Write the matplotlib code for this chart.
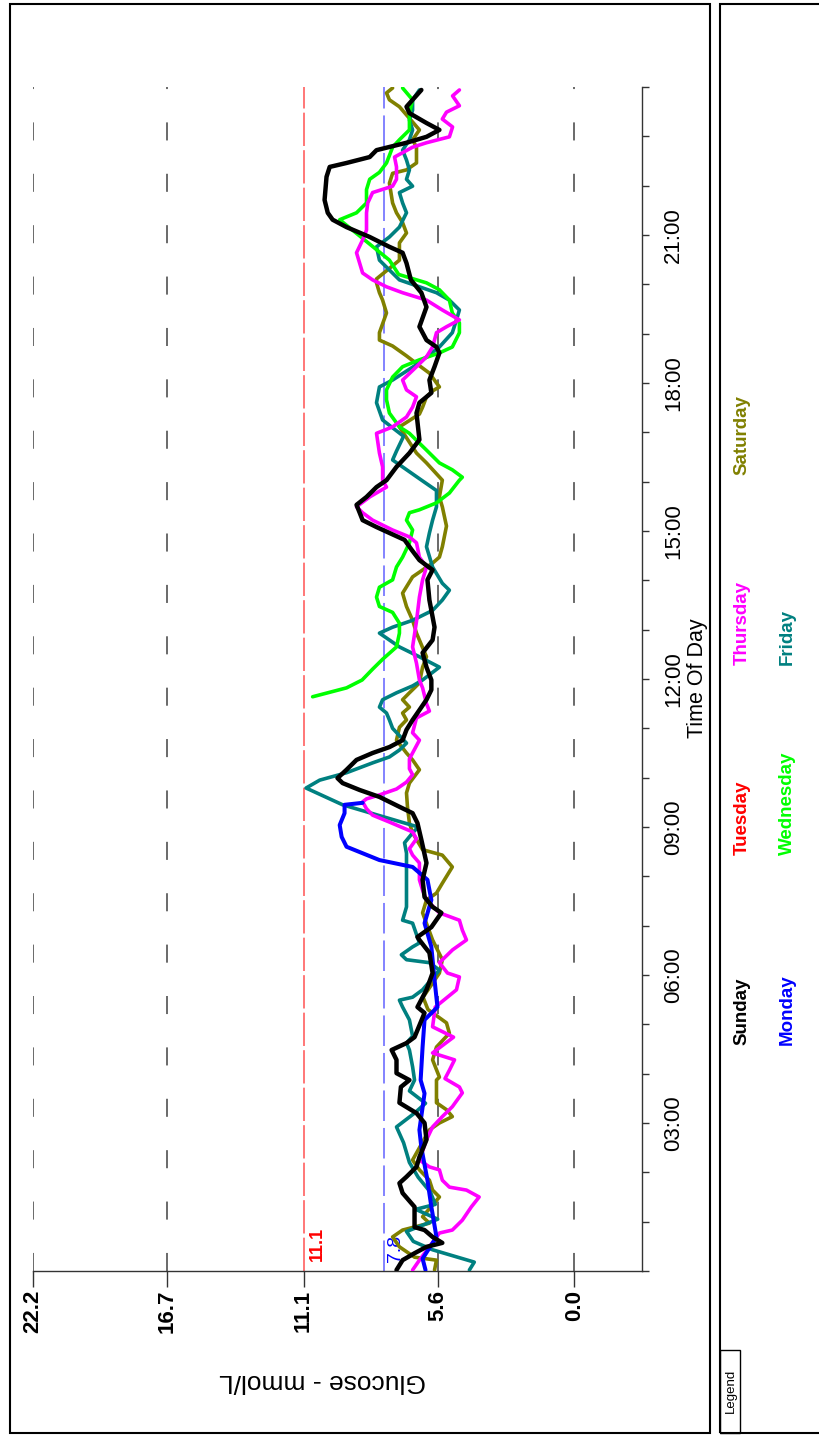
import matplotlib
matplotlib.use('Agg')
import matplotlib.pyplot as plt
from matplotlib.patches import Rectangle

plt.rcParams['font.family'] = ['Liberation Sans', 'DejaVu Sans']
plt.rcParams['lines.scale_dashes'] = False

# ---------------- data (time of day in hours, glucose in mmol/L) ----------------
glucose_ticks = [22.2, 16.7, 11.1, 5.6, 0.0]
glucose_labels = ['22.2', '16.7', '11.1', '5.6', '0.0']
time_ticks = [3, 6, 9, 12, 15, 18, 21]
time_labels = ['03:00', '06:00', '09:00', '12:00', '15:00', '18:00', '21:00']
threshold_high = 11.1
threshold_target = 7.8

days = ['Sunday', 'Monday', 'Tuesday', 'Wednesday', 'Thursday', 'Friday', 'Saturday']
day_colors = ['#000000', '#0000ff', '#ff0000', '#00ff00', '#ff00ff', '#008080', '#808000']

sunday = [(0.02,7.29),(0.22,7.04),(0.36,6.55),(0.49,6.06),(0.57,5.41),(0.69,5.81),(0.83,6.14),(0.89,6.55),
          (1.30,6.55),(1.58,7.04),(1.78,7.17),(1.91,6.88),(2.11,6.47),(2.31,6.35),(2.66,6.06),(3.00,6.14),
          (3.20,6.47),(3.41,7.17),(3.73,7.11),(3.87,6.76),(4.01,7.29),(4.28,7.29),(4.48,7.49),(4.62,6.88),
          (4.74,6.55),(5.23,6.14),(5.35,6.43),(5.70,6.06),(6.04,5.81),(6.45,5.94),(6.71,6.35),(6.77,6.43),
          (6.97,5.86),(7.26,5.45),(7.38,5.81),(7.58,6.14),(7.93,6.22),(8.27,6.06),(8.74,6.27),(9.08,6.43),
          (9.28,6.63),(9.41,7.17),(9.61,7.99),(9.75,8.80),(9.89,9.50),(9.99,9.71),(10.16,9.34),(10.36,8.93),
          (10.50,8.27),(10.62,7.58),(10.76,7.04),(10.97,6.88),(11.17,6.63),(11.37,6.35),(11.58,6.06),
          (11.78,5.86),(11.98,5.86),(12.24,6.06),(12.53,6.22),(12.79,5.81),(13.05,5.73),(13.60,5.94),
          (14.01,6.02),(14.21,5.81),(14.41,6.35),(14.62,6.67),(14.82,6.96),(14.96,7.58),(15.08,8.11),
          (15.22,8.68),(15.37,8.80),(15.53,8.93),(15.69,8.52),(15.89,8.11),(16.03,7.70),(16.30,7.29),
          (16.58,6.76),(16.85,6.35),(17.39,6.47),(17.60,6.35),(17.80,5.86),(18.06,5.94),(18.33,5.73),
          (18.61,5.53),(18.73,5.65),(18.87,6.06),(19.14,6.35),(19.54,6.06),(19.83,6.27),(20.09,6.70),
          (20.43,6.88),(20.64,7.04),(20.76,7.58),(20.96,8.39),(21.16,9.34),(21.31,9.91),(21.45,10.11),
          (21.71,10.24),(22.18,10.16),(22.38,10.03),(22.46,9.34),(22.58,8.39),(22.72,8.11),(22.87,6.88),
          (22.99,6.06),(23.13,5.53),(23.27,6.06),(23.47,6.76),(23.60,6.88),(23.74,6.63),(23.94,6.27)]

monday = [(0.02,6.10),(0.25,6.22),(0.69,5.65),(1.30,5.86),(1.84,6.02),(2.50,6.27),(2.86,6.35),(3.60,6.14),
          (3.87,6.30),(4.54,6.22),(5.09,6.14),(5.35,5.61),(5.90,5.73),(6.57,5.86),(7.05,6.14),(7.52,5.86),
          (7.93,6.02),(8.19,6.63),(8.33,7.99),(8.60,9.34),(8.80,9.54),(9.04,9.62),(9.28,9.42),(9.45,9.42),
          (9.49,8.68)]

tuesday = []

wednesday = [(11.64,10.73),(11.82,9.34),(11.98,8.70),(12.20,8.27),(12.40,7.86),(12.65,7.29),(12.93,7.17),
             (13.13,7.17),(13.35,7.45),(13.47,7.99),(13.66,8.11),(13.86,7.99),(14.01,7.45),(14.27,7.29),
             (14.47,7.04),(14.76,6.76),(15.02,6.63),(15.22,6.88),(15.37,6.76),(15.43,6.35),(15.57,5.65),
             (15.77,5.12),(16.03,4.71),(16.09,4.59),(16.24,5.00),(16.38,5.53),(16.64,6.06),(16.78,6.35),
             (16.98,6.76),(17.11,7.17),(17.39,7.58),(17.66,7.70),(17.86,7.70),(18.12,7.45),(18.33,7.04),
             (18.47,6.35),(18.61,5.53),(18.73,5.00),(19.02,4.71),(19.22,4.71),(19.42,5.00),(19.68,5.12),
             (19.89,5.53),(20.03,6.06),(20.20,7.20),(20.49,7.58),(21.31,9.62),(21.45,8.93),(21.65,8.52),
             (21.92,8.52),(22.13,8.39),(22.27,7.99),(22.46,7.70),(22.78,7.45),(22.93,7.17),(23.13,6.76),
             (23.47,6.76),(23.74,6.63),(23.98,7.04)]

thursday = [(0.02,6.63),(0.22,6.35),(0.49,5.94),(0.77,5.53),(0.83,5.00),(1.03,4.59),(1.30,4.22),(1.50,3.90),
            (1.64,4.42),(1.70,5.12),(1.84,5.41),(2.05,5.53),(2.11,5.94),(2.25,6.35),(2.66,6.06),(2.92,5.81),
            (3.13,5.41),(3.33,5.00),(3.61,4.59),(3.73,4.71),(3.90,5.30),(4.07,5.12),(4.28,4.91),(4.42,5.81),
            (4.74,4.95),(4.95,5.81),(5.35,5.70),(5.70,4.83),(5.96,4.71),(6.04,5.20),(6.25,5.53),(6.51,4.99),
            (6.71,4.42),(6.91,4.59),(7.11,4.71),(7.26,5.53),(7.52,6.06),(7.72,6.22),(7.93,6.35),(8.27,6.35),
            (8.43,6.63),(8.56,6.76),(8.76,6.47),(8.90,6.63),(9.10,7.58),(9.24,8.27),(9.37,8.52),(9.51,8.68),
            (9.57,8.52),(9.65,7.99),(9.77,7.29),(9.91,6.88),(10.06,6.63),(10.18,6.76),(10.38,6.76),(10.76,6.35),
            (10.91,6.63),(11.21,6.47),(11.35,5.94),(11.50,6.06),(11.82,6.22),(11.98,6.35),(12.32,6.47),
            (12.65,6.63),(13.17,6.47),(13.66,6.35),(14.01,6.22),(14.27,6.06),(14.47,6.35),(14.76,6.47),
            (14.88,6.76),(15.02,7.45),(15.22,8.27),(15.37,8.68),(15.49,8.93),(15.69,8.39),(15.89,7.70),
            (16.03,7.86),(16.30,7.86),(16.58,7.99),(16.98,8.11),(17.11,7.45),(17.31,6.88),(17.51,6.63),
            (17.72,6.47),(17.86,6.88),(18.06,7.04),(18.33,6.47),(18.53,6.06),(18.73,5.81),(19.02,5.65),
            (19.14,5.24),(19.28,4.71),(19.48,5.41),(19.68,6.06),(19.83,7.04),(19.95,7.70),(20.09,8.27),
            (20.23,8.68),(20.64,8.93),(20.90,8.68),(21.10,8.52),(21.45,8.52),(21.65,8.47),(21.86,8.27),
            (21.99,7.45),(22.13,7.29),(22.38,7.29),(22.58,7.37),(22.78,6.63),(22.87,6.06),(22.99,5.12),
            (23.19,4.99),(23.35,5.41),(23.49,5.24),(23.62,4.71),(23.82,4.99),(23.94,4.71)]

friday = [(0.02,4.30),(0.18,4.10),(0.43,5.81),(0.60,6.60),(0.80,6.88),(1.05,5.60),(1.25,6.50),(1.35,5.70),
          (1.60,5.90),(1.90,6.40),(2.20,6.76),(2.60,7.00),(2.92,7.29),(3.20,6.55),(3.40,6.10),(3.65,6.76),
          (3.87,6.55),(4.14,6.63),(4.48,6.76),(4.62,6.88),(4.76,6.63),(5.09,6.76),(5.35,7.04),(5.49,7.17),
          (5.55,6.63),(5.70,6.22),(6.10,5.53),(6.25,5.94),(6.31,6.88),(6.41,7.09),(6.57,6.63),(6.65,6.35),
          (7.05,6.63),(7.11,7.04),(7.38,6.88),(7.93,6.88),(8.47,6.88),(8.68,6.96),(8.88,6.63),(9.00,6.40),
          (9.45,9.50),(9.79,11.00),(9.95,10.44),(10.10,9.34),(10.30,8.27),(10.42,7.58),(10.56,7.17),
          (10.70,6.88),(11.00,7.45),(11.17,7.58),(11.31,7.70),(11.43,7.99),(11.58,7.86),(11.72,7.29),
          (11.86,6.63),(11.98,6.22),(12.24,5.53),(12.45,6.35),(12.65,7.17),(12.93,7.99),(13.05,7.45),
          (13.19,6.63),(13.39,5.81),(13.60,5.41),(13.80,5.12),(13.94,5.41),(14.27,5.81),(14.68,6.06),
          (14.96,5.94),(15.22,5.81),(15.49,5.65),(15.82,5.65),(16.06,6.35),(16.44,7.45),(16.62,7.29),
          (16.92,7.00),(17.25,7.86),(17.60,8.11),(17.92,7.99),(18.06,7.45),(18.41,6.35),(18.53,6.06),
          (18.73,5.53),(19.02,5.00),(19.28,4.83),(19.48,4.71),(19.68,5.12),(19.83,5.65),(19.95,6.35),
          (20.09,7.17),(20.49,7.99),(20.76,8.11),(20.96,7.58),(21.16,7.17),(21.45,6.88),(21.65,7.04),
          (21.86,7.17),(21.99,6.63),(22.13,6.88),(22.32,6.76),(22.52,6.88),(22.72,7.04),(22.93,6.76),
          (23.13,6.63),(23.33,6.76),(23.53,6.63),(23.74,6.63),(23.94,6.35)]

saturday = [(0.02,5.73),(0.22,5.65),(0.28,6.55),(0.49,7.17),(0.69,7.45),(0.83,7.04),(0.97,5.94),(1.10,6.22),
            (1.50,5.53),(1.64,5.81),(1.84,5.94),(2.05,6.35),(2.25,6.63),(2.86,5.94),(3.00,5.53),(3.13,5.00),
            (3.27,5.24),(3.41,5.65),(3.87,5.65),(3.93,5.53),(4.28,5.81),(4.54,5.65),(4.82,5.12),(5.03,5.24),
            (5.30,6.00),(5.55,6.20),(6.04,5.53),(6.31,5.41),(6.71,5.81),(7.26,6.22),(7.52,6.06),(7.66,5.65),
            (7.86,5.41),(8.19,5.00),(8.43,5.41),(8.54,6.22),(8.88,6.63),(9.08,6.76),(9.41,6.84),(9.69,6.88),
            (9.89,6.76),(10.16,6.35),(10.36,6.63),(10.50,6.88),(10.76,7.29),(11.02,7.17),(11.17,6.88),
            (11.31,7.04),(11.43,6.76),(11.58,7.04),(11.72,6.76),(11.92,6.35),(12.24,6.22),(12.45,6.06),
            (12.93,6.47),(13.19,6.63),(13.47,6.88),(13.74,7.04),(14.07,6.63),(14.21,6.22),(14.35,5.81),
            (14.47,5.53),(14.68,5.41),(15.10,5.24),(15.49,5.41),(15.69,5.53),(16.03,5.41),(16.38,6.06),
            (16.58,6.47),(17.11,7.17),(17.37,6.35),(17.51,6.22),(17.72,6.06),(17.84,5.81),(17.92,5.53),
            (18.20,5.94),(18.35,6.35),(18.55,6.88),(18.75,7.45),(18.87,7.99),(19.02,7.99),(19.42,7.70),
            (19.68,7.86),(19.83,7.99),(20.03,8.11),(20.11,8.11),(20.49,7.17),(20.84,7.17),(21.04,6.88),
            (21.25,7.04),(21.45,7.29),(21.65,7.45),(22.05,7.58),(22.25,7.45),(22.32,6.88),(22.46,6.47),
            (22.78,6.47),(22.93,6.63),(23.13,6.35),(23.60,7.17),(23.74,7.58),(23.88,7.70),(23.98,7.45)]

series = [sunday, monday, tuesday, wednesday, thursday, friday, saturday]

# ---------------- figure ----------------
W, H = 819, 1437
fig = plt.figure(figsize=(W / 100, H / 100), dpi=100)


def fx(px):
    return px / W


def fy(py):
    return 1 - py / H


ax = fig.add_axes([fx(33), fy(1271), fx(642) - fx(33), fy(87) - fy(1271)])
ax.set_xlim(22.2, -2.78)
ax.set_ylim(0, 24)
for s in ['left', 'top']:
    ax.spines[s].set_visible(False)
for s in ['bottom', 'right']:
    ax.spines[s].set_linewidth(1.0)
    ax.spines[s].set_color('#333333')

# grid / reference lines
for v in glucose_ticks:
    if v == threshold_high:
        continue
    ax.axvline(v, color='#505050', lw=1.2, dashes=(13, 24), zorder=1)
ax.axvline(threshold_high, color='#ff6060', lw=1.2, dashes=(24, 3), zorder=1)
ax.axvline(threshold_target, color='#6e6eff', lw=1.2, dashes=(22, 5), zorder=1)
ax.text(10.52, 0.2, '11.1', rotation=90, color='#ff0000', fontsize=13, fontweight='bold',
        ha='center', va='bottom', zorder=2)
ax.text(7.33, 0.18, '7.8', rotation=90, color='#0000ff', fontsize=14,
        ha='center', va='bottom', zorder=2)

# series (draw Sunday last so it sits on top)
order = [6, 5, 3, 4, 2, 1, 0]
widths = {0: 3.2, 1: 2.9}
for i in order:
    pts = series[i]
    if not pts:
        continue
    t = [p[0] for p in pts]
    g = [p[1] for p in pts]
    ax.plot(g, t, color=day_colors[i], lw=widths.get(i, 2.6), solid_joinstyle='round',
            solid_capstyle='round', zorder=3 + order.index(i))

# axes ticks
ax.set_xticks(glucose_ticks, glucose_labels, rotation=90, fontsize=16, fontweight='bold')
ax.tick_params(axis='x', direction='out', length=11.5, width=1, pad=2, colors='#333333',
               labelcolor='black')
ax.yaxis.tick_right()
ax.set_yticks(time_ticks, time_labels, rotation=90, va='center', fontsize=16)
ax.set_yticks(range(0, 25), minor=True)
ax.tick_params(axis='y', which='both', direction='out', length=5, width=1, pad=10,
               colors='#333333', labelcolor='black', right=True, left=False)

fig.text(fx(322), fy(1381), 'Glucose - mmol/L', rotation=180, fontsize=19,
         ha='center', va='center')
fig.text(fx(697), fy(678), 'Time Of Day', rotation=90, fontsize=15.5,
         ha='center', va='center')

# frames
fig.add_artist(Rectangle((fx(10), fy(1433)), fx(710) - fx(10), fy(4) - fy(1433),
                         transform=fig.transFigure, fill=False, lw=1.5, ec='black'))
fig.add_artist(Rectangle((fx(720), fy(1433)), fx(830) - fx(720), fy(4) - fy(1433),
                         transform=fig.transFigure, fill=False, lw=1.5, ec='black'))
fig.add_artist(Rectangle((fx(720), fy(1433)), fx(740) - fx(720), fy(1350) - fy(1433),
                         transform=fig.transFigure, fill=False, lw=1.0, ec='black'))
fig.text(fx(730.5), fy(1391), 'Legend', rotation=90, fontsize=9.5, ha='center', va='center')

# legend entries
leg_x = [742, 787, 742, 787, 742, 787, 742]
leg_y = [1045, 1045, 855, 855, 665, 665, 475]
for name, col, lx, ly in zip(days, day_colors, leg_x, leg_y):
    fig.text(fx(lx), fy(ly), name, rotation=90, color=col, fontsize=13.5, fontweight='bold',
             ha='center', va='bottom')

fig.savefig('out.png', dpi=100)
